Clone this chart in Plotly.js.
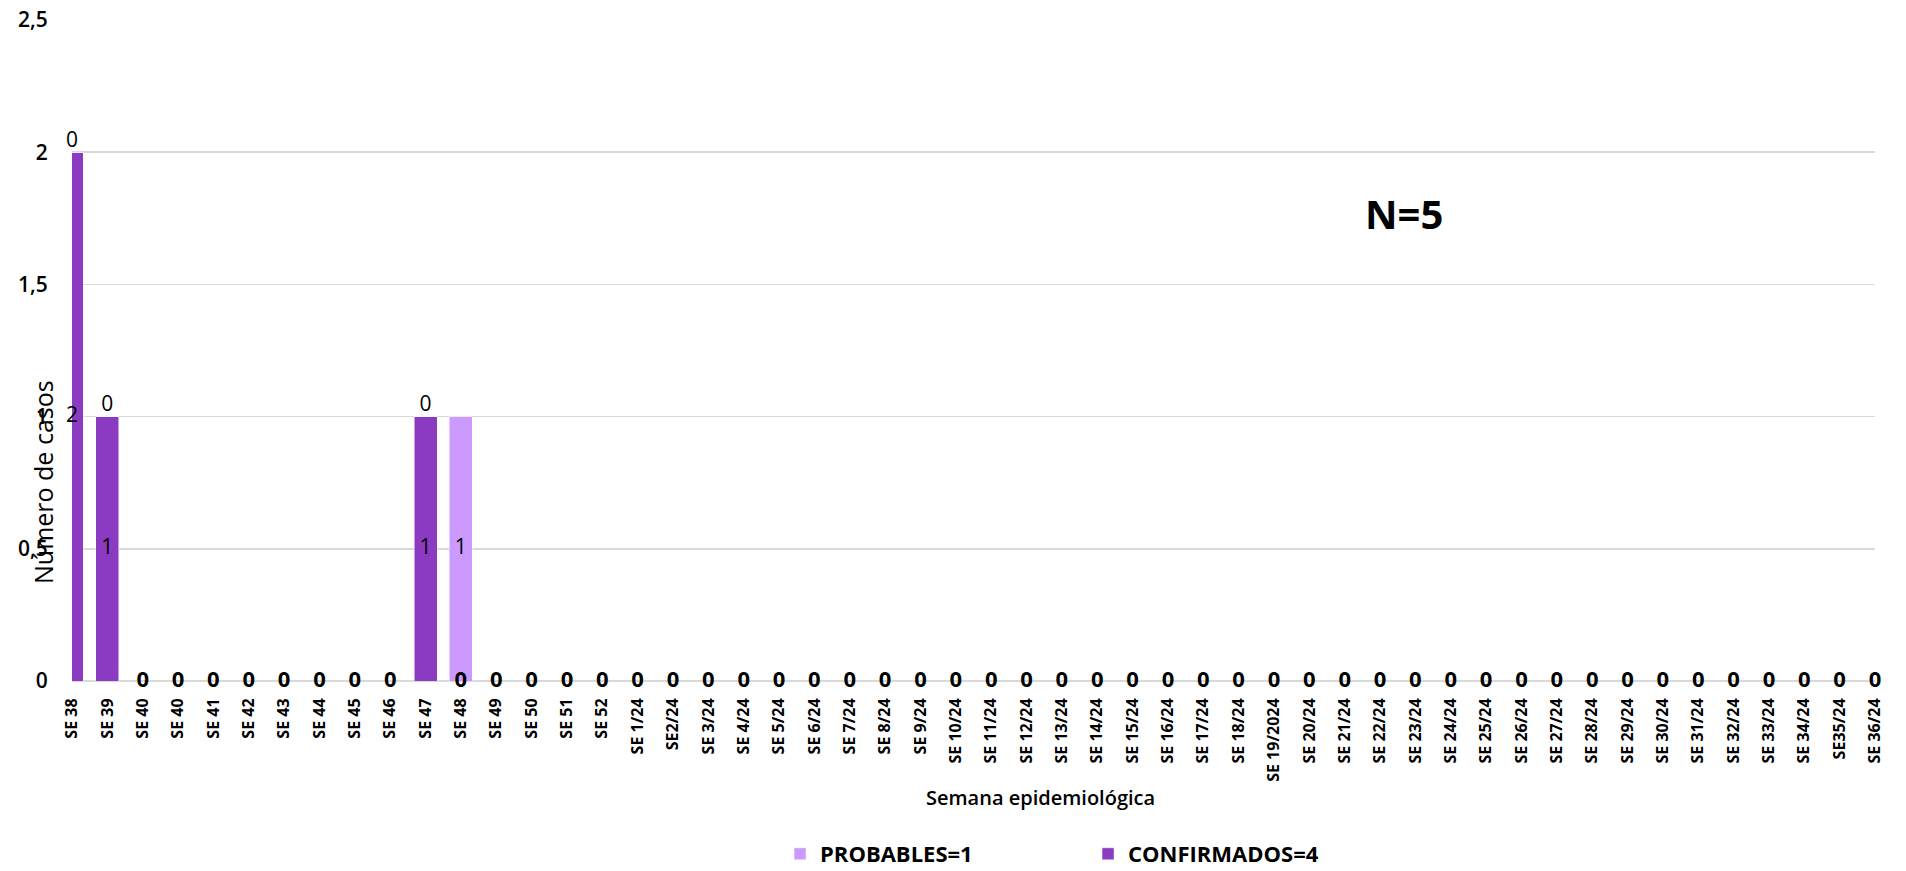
<!DOCTYPE html>
<html>
<head>
<meta charset="utf-8">
<script src="https://cdn.plot.ly/plotly-3.0.1.min.js"></script>
<style>html,body{margin:0;padding:0;background:#fff;}#chart{width:1906px;height:871px;}</style>
</head>
<body>
<div id="chart"></div>
<script>
const weeks = ['SE 38','SE 39','SE 40','SE 40','SE 41','SE 42','SE 43','SE 44','SE 45','SE 46','SE 47','SE 48','SE 49','SE 50','SE 51','SE 52',
  'SE 1/24','SE2/24','SE 3/24','SE 4/24','SE 5/24','SE 6/24','SE 7/24','SE 8/24','SE 9/24','SE 10/24','SE 11/24','SE 12/24','SE 13/24','SE 14/24','SE 15/24','SE 16/24','SE 17/24','SE 18/24',
  'SE 19/2024','SE 20/24','SE 21/24','SE 22/24','SE 23/24','SE 24/24','SE 25/24','SE 26/24','SE 27/24','SE 28/24','SE 29/24','SE 30/24','SE 31/24','SE 32/24','SE 33/24','SE 34/24','SE35/24','SE 36/24'];
const confirmados = [2,1,0,0,0,0,0,0,0,0,1,0,0,0,0,0, 0,0,0,0,0,0,0,0,0,0,0,0,0,0,0,0,0,0, 0,0,0,0,0,0,0,0,0,0,0,0,0,0,0,0,0,0];
const probables   = [0,0,0,0,0,0,0,0,0,0,0,1,0,0,0,0, 0,0,0,0,0,0,0,0,0,0,0,0,0,0,0,0,0,0, 0,0,0,0,0,0,0,0,0,0,0,0,0,0,0,0,0,0];
const yTicks = [0, 0.5, 1, 1.5, 2, 2.5];
const nameConf = 'CONFIRMADOS=4';
const nameProb = 'PROBABLES=1';
const totalLabel = 'N=5';

const FONT = 'Open Sans, Noto Sans, sans-serif';
const colConf = '#8A3BC2';
const colProb = '#CC99FF';
const idx = weeks.map((_, i) => i);

// label points derived from the data
const cx = [], cy = [], ct = [];
const px = [], py = [], pt = [];
const zx = [], zy = [], zt = [];
idx.forEach(i => {
  if (confirmados[i] > 0) { cx.push(i); cy.push(confirmados[i] / 2); ct.push(String(confirmados[i])); }
  else { zx.push(i); zy.push(0); zt.push('0'); }
  if (probables[i] > 0) { px.push(i); py.push(confirmados[i] + probables[i] / 2); pt.push(String(probables[i])); }
});
const tx = [], ty = [], tt = [];
idx.forEach(i => {
  if (probables[i] === 0 && confirmados[i] > 0) { tx.push(i); ty.push(confirmados[i]); tt.push('0'); }
});

const data = [
  {type:'bar', x: idx, y: confirmados, name: nameConf, marker:{color: colConf, line:{color:'#ffffff', width:0.5}}, hoverinfo:'skip'},
  {type:'bar', x: idx, y: probables, name: nameProb, marker:{color: colProb, line:{color:'#ffffff', width:0.5}}, hoverinfo:'skip'},
  {type:'scatter', mode:'text', x: cx, y: cy, text: ct, textposition:'middle center', cliponaxis:false, showlegend:false, hoverinfo:'skip',
   textfont:{family: FONT, size: 21, color:'#000'}},
  {type:'scatter', mode:'text', x: px, y: py, text: pt, textposition:'middle center', cliponaxis:false, showlegend:false, hoverinfo:'skip',
   textfont:{family: FONT, size: 21, color:'#000'}},
  {type:'scatter', mode:'text', x: tx, y: ty, text: tt, textposition:'top center', cliponaxis:false, showlegend:false, hoverinfo:'skip',
   textfont:{family: FONT, size: 21, color:'#000'}},
  {type:'scatter', mode:'text', x: zx, y: zy, text: zt, textposition:'middle center', cliponaxis:false, showlegend:false, hoverinfo:'skip',
   textfont:{family: FONT, size: 22, color:'#000', weight: 'bold'}}
];

const layout = {
  width: 1906, height: 871,
  margin: {l: 72, r: 31, t: 20, b: 190, autoexpand: false},
  paper_bgcolor: '#fff', plot_bgcolor: '#fff',
  separators: ',.',
  barmode: 'stack', bargap: 0.35,
  font: {family: FONT, color: '#000'},
  xaxis: {
    range: [0, weeks.length - 1], tickvals: idx, ticktext: weeks, tickangle: -90,
    tickfont: {family: FONT, size: 16, weight: 'bold', color: '#000'},
    showgrid: false, zeroline: false, showline: false, automargin: false,
    ticks: 'outside', ticklen: 10, tickcolor: 'rgba(0,0,0,0)', fixedrange: true
  },
  yaxis: {
    range: [0, 2.5], tickvals: yTicks, tickformat: '~r',
    tickfont: {family: FONT, size: 21, weight: 600, color: '#000'},
    showgrid: true, gridcolor: '#D9D9D9', gridwidth: 1.5,
    zeroline: true, zerolinecolor: '#D9D9D9', zerolinewidth: 1.5, automargin: false,
    ticks: 'outside', ticklen: 19, tickcolor: 'rgba(0,0,0,0)', fixedrange: true
  },
  legend: {
    orientation: 'h', traceorder: 'reversed',
    x: 0.3927, xanchor: 'left', y: -0.2617, yanchor: 'middle',
    entrywidth: 263, entrywidthmode: 'pixels',
    font: {family: FONT, size: 22, weight: 'bold', color: '#000'}
  },
  annotations: [
    {text: totalLabel, xref:'paper', yref:'paper', x: 0.739, y: 0.708, xanchor:'center', yanchor:'middle', showarrow:false,
     font:{family: FONT, size: 40, weight:'bold', color:'#000'}},
    {text: 'Número de casos', xref:'paper', yref:'paper', x: -0.0161, y: 0.301, xanchor:'center', yanchor:'middle', textangle: -90, showarrow:false,
     font:{family: FONT, size: 25, color:'#000'}},
    {text: 'Semana epidemiológica', xref:'paper', yref:'paper', x: 0.537, y: -0.1755, xanchor:'center', yanchor:'middle', showarrow:false,
     font:{family: FONT, size: 20, weight: 600, color:'#000'}}
  ]
};

Plotly.newPlot('chart', data, layout, {displayModeBar:false, staticPlot:true});
</script>
</body>
</html>
